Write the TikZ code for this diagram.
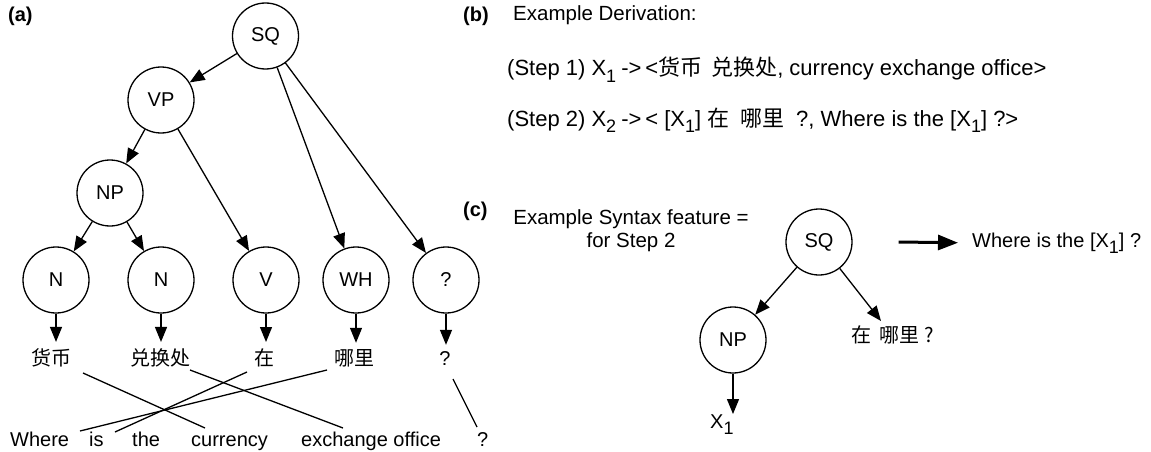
\documentclass[tikz,border=0pt]{standalone}
\usepackage{fontspec}
\setmainfont{Liberation Sans}
\newfontfamily\cjk{Noto Sans CJK SC}
\usetikzlibrary{arrows.meta}
\newcommand\lsub[1]{\raisebox{-6pt}{\fontsize{18}{18}\selectfont #1}}
\newcommand\myfs{\fontsize{20.5}{24}\selectfont}
\newcommand\mystep{\fontsize{22}{26}\selectfont}
\begin{document}
\begin{tikzpicture}[x=1pt,y=-1pt,
  every node/.style={font=\fontsize{20}{24}\selectfont, inner sep=0pt},
  circ/.style={circle,draw,line width=1.3pt,minimum size=66pt},
  arr/.style={line width=1.3pt,-{Triangle[length=15pt,width=12pt]}},
  lnk/.style={line width=1.3pt},
  lbl/.style={font=\fontsize{20}{24}\selectfont\bfseries, anchor=base west},
  txt/.style={font=\myfs, anchor=base west},
  steptxt/.style={font=\mystep, anchor=base west},
  zh/.style={font=\fontsize{20}{24}\selectfont\cjk, anchor=base},
  en/.style={anchor=base west}]
\useasboundingbox (0,0) rectangle (1151,452);

% labels
\node[lbl] (la) at (8,22) {(a)};
\node[lbl] (lb) at (463,22) {(b)};
\node[lbl] (lc) at (463,216) {(c)};

% tree (a)
\node[circ] (SQ) at (265.5,36) {SQ};
\node[circ] (VP) at (161,100) {VP};
\node[circ] (NP) at (110,193) {NP};
\node[circ] (N1) at (56,280) {N};
\node[circ] (N2) at (161,280) {N};
\node[circ] (V)  at (266,280) {V};
\node[circ] (WH) at (356,280) {WH};
\node[circ] (QQ) at (446,280) {?};

\draw[arr] (SQ) -- (VP);
\draw[arr] (VP) -- (NP);
\draw[arr] (VP) -- (V);
\draw[arr] (SQ) -- (WH);
\draw[arr] (SQ) -- (QQ);
\draw[arr] (NP) -- (N1);
\draw[arr] (NP) -- (N2);

% Chinese leaves
\node[zh] (huobi)   at (51,365)  {货币};
\node[zh] (duihuan) at (160,365) {兑换处};
\node[zh] (zai)     at (264,365) {在};
\node[zh] (nali)    at (354,365) {哪里};
\node[anchor=base] (q1) at (445,365) {?};

\draw[arr,shorten >=6pt] (N1) -- (N1 |- huobi.north);
\draw[arr,shorten >=6pt] (N2) -- (N2 |- duihuan.north);
\draw[arr,shorten >=6pt] (V)  -- (V |- zai.north);
\draw[arr,shorten >=6pt] (WH) -- (WH |- nali.north);
\draw[arr,shorten >=6pt] (QQ) -- (QQ |- q1.north);

% English words
\node[en] (where) at (10,446) {Where};
\node[en] (is)    at (89,446) {is};
\node[en] (the)   at (132,446) {the};
\node[en] (cur)   at (191,446) {currency};
\node[en] (exch)  at (301,446) {exchange office};
\node[en] (q2)    at (477,446) {?};

% alignment links
\draw[lnk] ([shift={(32,8)}]huobi.base) -- ([shift={(14,-18)}]cur.base west);
\draw[lnk] ([shift={(30,5)}]duihuan.base) -- ([shift={(42,-18)}]exch.base west);
\draw[lnk] ([shift={(-17,7)}]zai.base) -- ([shift={(26,-14)}]is.base west);
\draw[lnk] ([shift={(-27,5)}]nali.base) -- ([shift={(70,-15)}]where.base west);
\draw[lnk] ([shift={(8,14)}]q1.base) -- ([shift={(0,-19)}]q2.base west);

% (b)
\node[txt] (bt) at (513,21) {Example Derivation:};
\node[steptxt] (s1) at (507,76) {(Step 1) X\lsub{1}\hspace{5pt}->\hspace{4pt}<{\cjk 货币\hspace{9pt}兑换处}, currency exchange office>};
\node[steptxt] (s2) at (507,126) {(Step 2) X\lsub{2}\hspace{5pt}->\hspace{4pt}<\hspace{6pt}[X\lsub{1}]\hspace{6pt}{\cjk 在\hspace{11pt}哪里}\hspace{12pt}?, Where is the [X\lsub{1}] ?>};

% (c)
\node[font=\myfs, align=center, anchor=base] (feat) at (631,247) {Example Syntax feature =\\[-1pt] for Step 2};
\node[circ] (SQc) at (819,242) {SQ};
\node[circ] (NPc) at (733,340) {NP};
\node[zh] (zn) at (893,342) {在\hspace{8pt}哪里\hspace{5pt}?};
\node[en] (x1) at (710,428) {X\lsub{1}};
\node[en] (wc) at (972,247) {Where is the [X\lsub{1}] ?};

\draw[arr] (SQc) -- (NPc);
\draw[arr] (SQc) -- ([shift={(-12,-4)}]zn.north);
\draw[arr] (NPc) -- (NPc |- x1.north);
\draw[line width=3pt,-{Triangle[length=20pt,width=15pt]}] ([xshift=46pt]SQc.east) -- ([xshift=-14pt]wc.west);
\end{tikzpicture}
\end{document}
